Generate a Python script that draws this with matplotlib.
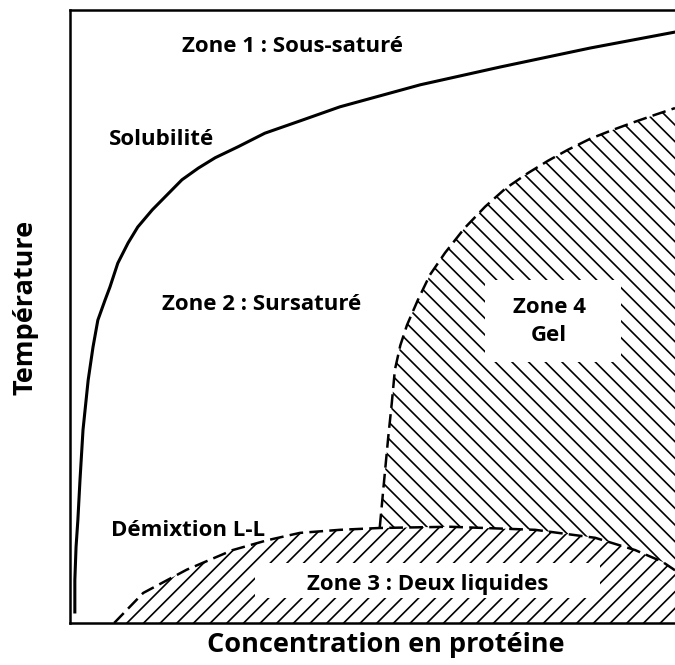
import matplotlib.pyplot as plt
from matplotlib.patches import Rectangle

plt.rcParams['font.family'] = ['Open Sans', 'DejaVu Sans']
plt.rcParams['hatch.linewidth'] = 1.2

# courbe de solubilite (concentration, temperature), unites arbitraires 0-100
sol_x = [0.8, 0.8, 1.0, 1.3, 1.65, 2.15, 3.0, 3.8, 4.6, 5.8, 6.6, 7.9, 9.6, 11.2,
         13.6, 15.7, 18.5, 21.2, 24.0, 27.8, 32.2, 38.0, 44.6, 57.9, 71.1, 86.0, 100]
sol_y = [1.8, 7.0, 12.4, 16.8, 23.3, 31.5, 39.6, 45.0, 49.4, 52.7, 54.8, 58.7, 62.0, 64.6,
         67.4, 69.5, 72.3, 74.2, 75.9, 77.7, 79.9, 81.9, 84.2, 87.8, 90.7, 93.8, 96.4]

# demixtion liquide-liquide (dome)
ll_x = [7.3, 12.1, 19.3, 26.9, 32.6, 38.0, 44.6, 51.2, 62.8, 76.9, 86.8, 93.4, 97.9, 100]
ll_y = [0, 4.9, 8.7, 11.9, 13.5, 14.7, 15.2, 15.5, 15.7, 15.2, 13.9, 11.9, 10.0, 8.6]

# frontiere du gel (du bas vers le haut)
gel_x = [51.2, 51.9, 52.6, 53.2, 53.7, 54.6, 55.7, 57.5, 59.5, 62.0, 65.2, 68.6,
         72.0, 75.7, 79.0, 82.3, 86.0, 89.6, 93.2, 96.7, 100]
gel_y = [15.6, 23.0, 30.3, 36.0, 41.3, 45.3, 48.6, 52.7, 56.8, 60.4, 64.4, 67.9,
         70.9, 73.4, 75.4, 77.2, 79.0, 80.4, 81.7, 82.9, 84.0]

fig = plt.figure(figsize=(6.75, 6.65), dpi=100)
ax = fig.add_axes([70 / 675, 42 / 665, 1 - 70 / 675, 613 / 665])
ax.set_xlim(0, 100)
ax.set_ylim(0, 100)

# zone 3 : deux liquides
ax.fill_between(ll_x, 0, ll_y, facecolor='none', edgecolor='black',
                hatch='//', linewidth=0)
ax.plot(ll_x, ll_y, color='black', lw=1.8, dashes=(5.5, 2.5))

# zone 4 : gel (au dessus du dome)
keep = [i for i, x in enumerate(ll_x) if x >= gel_x[0]][::-1]
poly_x = gel_x + [ll_x[i] for i in keep]
poly_y = gel_y + [ll_y[i] for i in keep]
ax.fill(poly_x, poly_y, facecolor='none', edgecolor='black', hatch='\\\\', linewidth=0)
ax.plot(gel_x, gel_y, color='black', lw=1.8, dashes=(5.5, 2.5))

# solubilite
ax.plot(sol_x, sol_y, color='black', lw=2.2, solid_joinstyle='round')

# cadres blancs derriere les textes
ax.add_patch(Rectangle((68.6, 42.6), 22.5, 13.4, facecolor='white', edgecolor='none', zorder=3))
ax.add_patch(Rectangle((30.6, 4.1), 57.0, 5.7, facecolor='white', edgecolor='none', zorder=3))

kw = dict(fontsize=16, fontweight='bold', ha='center', va='center', zorder=4)
ax.text(36.7, 94.0, 'Zone 1 : Sous-saturé', **kw)
ax.text(15.2, 78.8, 'Solubilité', **kw)
ax.text(31.7, 51.9, 'Zone 2 : Sursaturé', **kw)
ax.text(79.3, 51.4, 'Zone 4', **kw)
ax.text(79.1, 46.9, 'Gel', **kw)
ax.text(19.5, 15.1, 'Démixtion L-L', **kw)
ax.text(59.2, 6.3, 'Zone 3 : Deux liquides', **kw)

ax.set_xticks([])
ax.set_yticks([])
ax.spines['right'].set_visible(False)
for s in ['left', 'top', 'bottom']:
    ax.spines[s].set_linewidth(1.8)

ax.set_xlabel('Concentration en protéine', fontsize=19.5, fontweight='bold', va='center')
ax.set_ylabel('Température', fontsize=19.5, fontweight='bold', va='center')
ax.xaxis.set_label_coords(0.522, -0.036)
ax.yaxis.set_label_coords(-0.074, 0.514)

fig.savefig('out.png', dpi=100)
